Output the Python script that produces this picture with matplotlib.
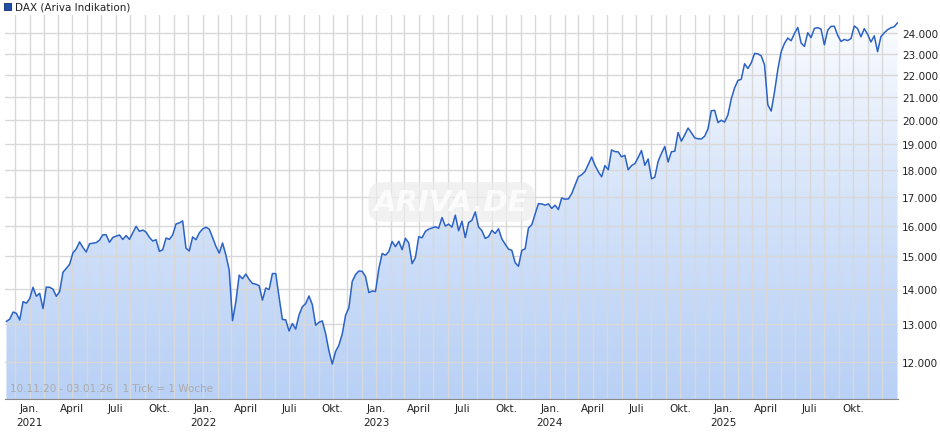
import numpy as np
import pandas as pd
import matplotlib
matplotlib.use("Agg")
import matplotlib.pyplot as plt
import matplotlib.dates as mdates
from matplotlib.ticker import FixedLocator, NullLocator

# weekly closes, DAX, 13.11.2020 .. 02.01.2026
dax_2020 = [13076, 13137, 13335, 13298, 13114, 13630, 13587, 13719]
dax_2021 = [14049, 13788, 13873, 13433, 14056, 14050, 13993, 13786, 13920, 14502,
            14621, 14748, 15107, 15234, 15460, 15280, 15136, 15400, 15417, 15437,
            15520, 15693, 15693, 15448, 15607, 15650, 15688, 15540, 15669, 15544,
            15761, 15977, 15808, 15852, 15781, 15609, 15490, 15531, 15156, 15206,
            15587, 15543, 15688, 16054, 16094, 16160, 15257, 15169, 15623, 15532,
            15756, 15885]
dax_2022 = [15948, 15883, 15603, 15318, 15100, 15425, 15042, 14567, 13094, 13628,
            14413, 14306, 14446, 14284, 14164, 14142, 14098, 13674, 14028, 13982,
            14462, 14460, 13762, 13127, 13118, 12813, 13015, 12864, 13254, 13484,
            13573, 13795, 13544, 12971, 13050, 13088, 12741, 12284, 11950, 12273,
            12437, 12731, 13243, 13460, 14224, 14431, 14541, 14529, 14370, 13893,
            13940, 13924]
dax_2023 = [14610, 15086, 15033, 15150, 15476, 15307, 15482, 15209, 15578, 15428,
            14768, 14957, 15629, 15598, 15808, 15882, 15922, 15961, 15914, 16275,
            15984, 16051, 15950, 16358, 15830, 16148, 15603, 16106, 16177, 16469,
            15952, 15832, 15574, 15632, 15840, 15740, 15894, 15557, 15387, 15229,
            15187, 14798, 14687, 15189, 15234, 15919, 16030, 16397, 16759, 16751,
            16706, 16752]
dax_2024 = [16594, 16704, 16555, 16961, 16918, 16927, 17117, 17419, 17735, 17815,
            17936, 18206, 18492, 18175, 17930, 17737, 18161, 18001, 18773, 18704,
            18693, 18498, 18557, 18002, 18164, 18235, 18475, 18748, 18171, 18418,
            17661, 17723, 18322, 18633, 18906, 18301, 18699, 18720, 19473, 19121,
            19373, 19657, 19464, 19255, 19215, 19211, 19323, 19626, 20385, 20406,
            19885, 19984, 19906]
dax_2025 = [20214, 20903, 21394, 21732, 21787, 22513, 22287, 22551, 23009, 22987,
            22892, 22461, 20642, 20374, 21205, 22242, 23086, 23499, 23767, 23630,
            23997, 24304, 23516, 23350, 24033, 23787, 24255, 24290, 24217, 23426,
            24163, 24359, 24363, 23902, 23597, 23698, 23639, 23739, 24378, 24241,
            23830, 24240, 23958, 23569, 23877, 23091, 23836, 24028, 24186, 24288,
            24340, 24539]

y_ticks = [12000, 13000, 14000, 15000, 16000, 17000, 18000, 19000, 20000,
           21000, 22000, 23000, 24000]
month_names = {1: "Jan.", 4: "April", 7: "Juli", 10: "Okt."}

values = np.array(dax_2020 + dax_2021 + dax_2022 + dax_2023 + dax_2024 + dax_2025, float)
dates = pd.date_range(end="2026-01-02", periods=len(values), freq="W-FRI")

fig = plt.figure(figsize=(9.4, 4.35), dpi=100)
ax = fig.add_axes([5 / 940, 35 / 435, 893 / 940, 384 / 435])
ax.set_yscale("log")
y_lo, y_hi = 11100, 24950
x_lo = mdates.date2num(pd.Timestamp("2020-11-10"))
x_hi = mdates.date2num(pd.Timestamp("2026-01-03"))
ax.set_xlim(x_lo, x_hi)
ax.set_ylim(y_lo, y_hi)

xn = mdates.date2num(dates)

# gradient fill under the line
grad = np.linspace(0, 1, 256).reshape(-1, 1)
top_c = np.array([1.0, 1.0, 1.0])
bot_c = np.array([0xb9, 0xd1, 0xf6]) / 255
img = top_c * (1 - grad[..., None]) + bot_c * grad[..., None]
img = img.reshape(256, 1, 3)
im = ax.imshow(img, aspect="auto", extent=[x_lo, x_hi, y_lo, y_hi * 1.01],
               origin="upper", zorder=1)
poly = ax.fill_between(xn, values, y_lo, color="none")
path = poly.get_paths()[0]
im.set_clip_path(path, transform=ax.transData)
ax.plot(xn, values, color="#2b62c6", lw=1.1, zorder=3)

# grid: months vertical, thousands horizontal
months = pd.date_range("2020-12-01", "2025-12-01", freq="MS")
for m in months:
    ax.axvline(mdates.date2num(m), color="#d8d8d8", lw=1, zorder=2)
for t in y_ticks:
    ax.axhline(t, color="#d8d8d8", lw=1, zorder=2)

ax.yaxis.set_major_locator(FixedLocator(y_ticks))
ax.yaxis.set_minor_locator(NullLocator())
ax.set_yticklabels([f"{t:,}".replace(",", ".") for t in y_ticks])
ax.yaxis.tick_right()
ax.tick_params(axis="y", length=0, labelsize=7.5, pad=3, colors="#222222")

ticks, labels = [], []
for m in months:
    if m.month in month_names:
        ticks.append(mdates.date2num(m))
        lab = month_names[m.month]
        if m.month == 1:
            lab += f"\n{m.year}"
        labels.append(lab)
ax.xaxis.set_major_locator(FixedLocator(ticks))
ax.xaxis.set_minor_locator(NullLocator())
ax.set_xticklabels(labels, va="top", linespacing=1.5)
ax.tick_params(axis="x", length=0, labelsize=7.5, pad=3, colors="#222222")

for s in ax.spines.values():
    s.set_visible(False)
ax.spines["bottom"].set_visible(True)
ax.spines["bottom"].set_color("#888888")

ax.text(0.5, 0.513, "ARIVA.DE", transform=ax.transAxes, ha="center", va="center",
        fontsize=21, fontweight="bold", style="italic", color="#fbfbfb",
        zorder=2.5,
        bbox=dict(boxstyle="round,pad=0.2,rounding_size=0.5", fc="#ececec", ec="none",
                  alpha=0.7))
ax.text(0.006, 0.015, "10.11.20 - 03.01.26   1 Tick = 1 Woche", transform=ax.transAxes,
        ha="left", va="bottom", fontsize=7.5, color="#aaaaaa", zorder=4)

fig.patches.append(plt.Rectangle((4 / 940, 1 - 11 / 435), 7 / 940, 7 / 435,
                                 transform=fig.transFigure, fc="#1f4fa8", ec="#0c2a66", lw=0.6))
fig.text(15 / 940, 1 - 7 / 435, "DAX (Ariva Indikation)", ha="left", va="center",
         fontsize=7.5, color="#222222")

fig.savefig("out.png", dpi=100)
